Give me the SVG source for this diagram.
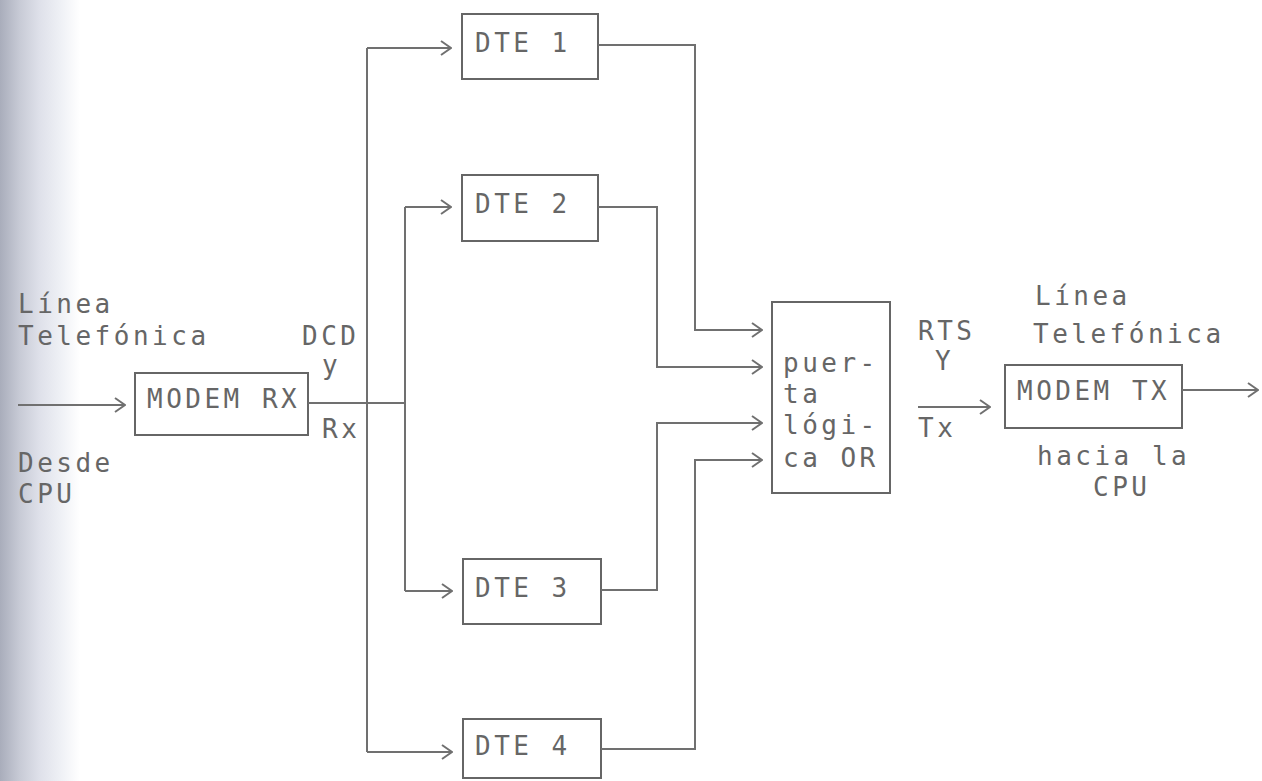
<svg xmlns="http://www.w3.org/2000/svg" width="1262" height="781" viewBox="0 0 1262 781">
<defs>
<linearGradient id="shade" x1="0" y1="0" x2="1" y2="0">
<stop offset="0" stop-color="#a9adbb"/>
<stop offset="0.25" stop-color="#c8cbd6"/>
<stop offset="0.5" stop-color="#dfe1ea"/>
<stop offset="0.75" stop-color="#eef0f5"/>
<stop offset="1" stop-color="#ffffff"/>
</linearGradient>
<marker id="chev" viewBox="0 0 12 16" refX="11" refY="8" markerWidth="12" markerHeight="16" markerUnits="userSpaceOnUse" orient="auto">
<path d="M1,1 L11,8 L1,15" fill="none" stroke="#707070" stroke-width="2"/>
</marker>
</defs>
<style>
.box{fill:none;stroke:#666;stroke-width:2}
.ln{fill:none;stroke:#707070;stroke-width:2}
.arr{marker-end:url(#chev)}
text{font-family:"DejaVu Sans Mono","Liberation Mono",monospace;font-size:26px;fill:#666;letter-spacing:3.5px}
</style>
<rect width="1262" height="781" fill="#ffffff"/>
<rect width="80" height="781" fill="url(#shade)"/>

<g id="labels-left">
<text x="18" y="313">Línea</text>
<text x="18" y="345">Telefónica</text>
<text x="18" y="472">Desde</text>
<text x="18" y="503">CPU</text>
<text x="302" y="345">DCD</text>
<text x="322" y="374">y</text>
<text x="322" y="438">Rx</text>
</g>

<g id="modem-rx">
<rect class="box" x="135" y="373" width="173" height="62"/>
<text x="147" y="408">MODEM RX</text>
</g>

<g id="dte1">
<rect class="box" x="462" y="14" width="136" height="65"/>
<text x="475" y="52">DTE 1</text>
</g>
<g id="dte2">
<rect class="box" x="462" y="175" width="136" height="66"/>
<text x="475" y="213">DTE 2</text>
</g>
<g id="dte3">
<rect class="box" x="463" y="559" width="138" height="65"/>
<text x="475" y="597">DTE 3</text>
</g>
<g id="dte4">
<rect class="box" x="463" y="719" width="138" height="59"/>
<text x="475" y="755">DTE 4</text>
</g>

<g id="or-gate">
<rect class="box" x="772" y="302" width="118" height="191"/>
<text x="783" y="372">puer-</text>
<text x="783" y="403">ta</text>
<text x="783" y="434">lógi-</text>
<text x="783" y="467">ca OR</text>
</g>

<g id="labels-right">
<text x="918" y="340">RTS</text>
<text x="935" y="370">Y</text>
<text x="918" y="437">Tx</text>
<text x="1035" y="305">Línea</text>
<text x="1033" y="343">Telefónica</text>
<text x="1037" y="465">hacia la</text>
<text x="1093" y="496">CPU</text>
</g>

<g id="modem-tx">
<rect class="box" x="1005" y="365" width="177" height="63"/>
<text x="1017" y="400">MODEM TX</text>
</g>

<g id="connectors">
<path class="ln arr" d="M18,405 H125"/>
<path class="ln" d="M308,403 H405"/>
<path class="ln" d="M367,48 V752"/>
<path class="ln" d="M405,207 V591"/>
<path class="ln arr" d="M367,48 H451"/>
<path class="ln arr" d="M405,207 H451"/>
<path class="ln arr" d="M405,591 H452"/>
<path class="ln arr" d="M367,752 H452"/>
<path class="ln arr" d="M598,45 H695 V330 H762"/>
<path class="ln arr" d="M598,207 H657 V367 H762"/>
<path class="ln arr" d="M601,590 H657 V423 H762"/>
<path class="ln arr" d="M601,749 H695 V460 H762"/>
<path class="ln arr" d="M918,407 H990"/>
<path class="ln arr" d="M1182,390 H1258"/>
</g>
</svg>
